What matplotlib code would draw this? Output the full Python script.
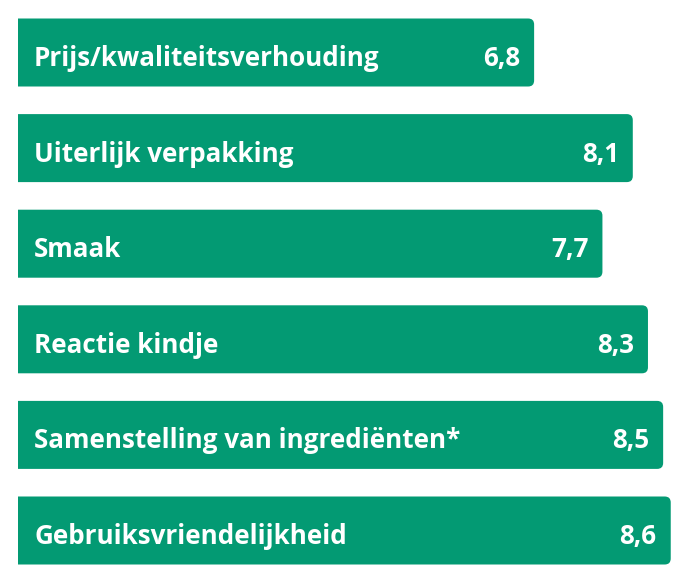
import matplotlib
matplotlib.use("Agg")
import matplotlib.pyplot as plt
from matplotlib.patches import FancyBboxPatch, Rectangle

labels = ["Prijs/kwaliteitsverhouding", "Uiterlijk verpakking", "Smaak",
          "Reactie kindje", "Samenstelling van ingrediënten*", "Gebruiksvriendelijkheid"]
scores = [6.8, 8.1, 7.7, 8.3, 8.5, 8.6]
score_text = ["6,8", "8,1", "7,7", "8,3", "8,5", "8,6"]

green = "#039a73"
px_x = 75.9   # pixels per score unit
px_y = 95.6   # pixels per bar slot
bar_h = 68 / px_y

fig = plt.figure(figsize=(6.98, 5.86), dpi=100)
ax = fig.add_axes([0, 0, 1, 1])
ax.set_xlim(-18 / px_x, (698 - 18) / px_x)
ax.set_ylim((586 - 52.5) / px_y, -52.5 / px_y)
ax.axis("off")

# keep everything right of zero so the left end of each bar is square
clip = Rectangle((0, -1), 20, 10, transform=ax.transData, fc="none", ec="none")

r = 6 / px_x
for i, (lab, v, t) in enumerate(zip(labels, scores, score_text)):
    box = FancyBboxPatch((-3 * r, i - bar_h / 2), v + 3 * r, bar_h,
                         boxstyle=f"round,pad=0,rounding_size={r}",
                         mutation_aspect=px_x / px_y,
                         fc=green, ec="none")
    ax.add_patch(box)
    box.set_clip_path(clip)
    ax.annotate(lab, xy=(0, i), xytext=(16 * 0.72, -3 * 0.72), textcoords="offset points",
                ha="left", va="center_baseline", color="white", fontsize=18.7,
                fontweight="bold", family="Open Sans")
    ax.annotate(t, xy=(v, i), xytext=(-14 * 0.72, -3 * 0.72), textcoords="offset points",
                ha="right", va="center_baseline", color="white", fontsize=18.7,
                fontweight="bold", family="Open Sans")

fig.savefig("out.png", dpi=100)
